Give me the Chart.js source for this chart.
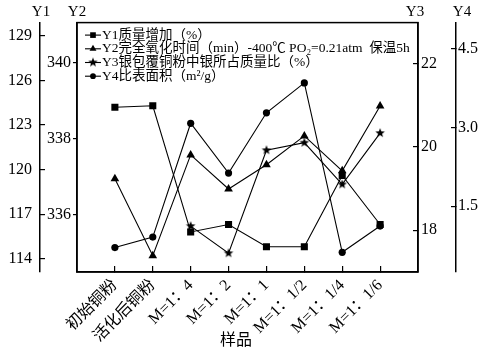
<!DOCTYPE html>
<html>
<head>
<meta charset="utf-8">
<script src="https://cdn.jsdelivr.net/npm/chart.js@4.4.0/dist/chart.umd.min.js"></script>
<style>
  html, body { margin: 0; padding: 0; background: #fff; }
</style>
</head>
<body>
<canvas id="chart" width="496" height="351"></canvas>
<script>
// Samples along the x axis
var categories = ['初始铜粉', '活化后铜粉', 'M=1：4', 'M=1：2', 'M=1：1', 'M=1：1/2', 'M=1：1/4', 'M=1：1/6'];

// Series values
var y1Gain = [124.2, 124.3, 115.8, 116.3, 114.8, 114.8, 119.6, 116.3];
var y2Time = [336.94, 334.91, 337.57, 336.67, 337.31, 338.07, 337.15, 338.86];
var y3Silver = [null, null, 18.1, 17.45, 19.92, 20.1, 19.1, 20.33];
var y4Area = [0.71, 0.91, 3.08, 2.13, 3.28, 3.85, 0.62, 1.12];

// Tick labels
var y1Ticks = [114, 117, 120, 123, 126, 129];
var y2Ticks = [336, 338, 340];
var y3Ticks = [18, 20, 22];
var y4Ticks = [1.5, 3.0, 4.5];

var legendLabels = [
  'Y1质量增加（%）',
  'Y2完全氧化时间（min）-400℃ PO₂=0.21atm  保温5h',
  'Y3银包覆铜粉中银所占质量比（%）',
  'Y4比表面积（m²/g）'
];
var axisTitles = ['Y1', 'Y2', 'Y3', 'Y4'];
var xTitle = '样品';

var family = "'Liberation Serif', 'Noto Sans CJK SC', serif";
Chart.defaults.font.family = family;
Chart.defaults.color = '#000';

// filled five point star for the Y3 series
function makeStar(r) {
  var c = document.createElement('canvas');
  var s = Math.ceil(r * 2 + 2);
  c.width = s;
  c.height = s;
  var g = c.getContext('2d');
  g.beginPath();
  for (var i = 0; i < 10; i++) {
    var rr = i % 2 ? r * 0.42 : r;
    var a = -Math.PI / 2 + i * Math.PI / 5;
    g.lineTo(s / 2 + rr * Math.cos(a), s / 2 + rr * Math.sin(a));
  }
  g.closePath();
  g.fillStyle = '#000';
  g.fill();
  return c;
}
var star = makeStar(5);

function points(arr) {
  return arr.map(function (v, i) { return {x: i + 1, y: v}; });
}

function series(label, values, axis, style, radius) {
  return {
    label: label,
    data: points(values),
    yAxisID: axis,
    borderColor: '#000',
    backgroundColor: '#000',
    borderWidth: 1.1,
    pointStyle: style,
    pointRadius: radius,
    pointBorderWidth: 0,
    tension: 0
  };
}

function setTicks(values) {
  return function (scale) {
    scale.ticks = values.map(function (v) { return {value: v}; });
  };
}

function fixWidth(w) {
  return function (scale) { scale.width = w; };
}

var gridOpts = function (len) {
  return {drawOnChartArea: false, tickLength: len, color: '#000', lineWidth: 1.2};
};
var borderOpts = {color: '#000', width: 1.5};
var tickFont = {size: 16};

// Frame, legend and the horizontal axis titles
var extras = {
  id: 'extras',
  afterDraw: function (chart) {
    var ctx = chart.ctx;
    var area = chart.chartArea;
    ctx.save();
    ctx.strokeStyle = '#000';
    ctx.lineWidth = 1.5;
    ctx.strokeRect(area.left, area.top, area.right - area.left, area.bottom - area.top);

    // legend
    var x0 = area.left + 8;
    var y0 = area.top + 12.5;
    chart.data.datasets.forEach(function (ds, i) {
      var y = y0 + i * 13.7;
      ctx.strokeStyle = '#000';
      ctx.fillStyle = '#000';
      ctx.lineWidth = 1.1;
      ctx.beginPath();
      ctx.moveTo(x0, y);
      ctx.lineTo(x0 + 16, y);
      ctx.stroke();
      if (Chart.helpers && Chart.helpers.drawPoint) {
        Chart.helpers.drawPoint(ctx, {pointStyle: ds.pointStyle, radius: ds.pointRadius * 0.8, rotation: 0, borderWidth: 0}, x0 + 8, y);
      }
      ctx.font = '13.5px ' + family;
      ctx.textBaseline = 'middle';
      ctx.textAlign = 'left';
      ctx.fillText(legendLabels[i], x0 + 17, y);
    });

    // axis names on top
    ctx.font = '15px ' + family;
    ctx.textBaseline = 'middle';
    ctx.textAlign = 'center';
    ctx.fillText(axisTitles[0], chart.scales.y1.right + 1, 12);
    ctx.fillText(axisTitles[1], area.left, 12);
    ctx.fillText(axisTitles[2], area.right - 3, 12);
    ctx.fillText(axisTitles[3], chart.scales.y4.left + 6, 12);

    ctx.font = '16px ' + family;
    ctx.fillText(xTitle, 236, 341);
    ctx.restore();
  }
};

var chart = new Chart(document.getElementById('chart'), {
  type: 'line',
  data: {
    datasets: [
      series(legendLabels[0], y1Gain, 'y1', 'rect', 5),
      series(legendLabels[1], y2Time, 'y2', 'triangle', 5),
      series(legendLabels[2], y3Silver, 'y3', star, 5),
      series(legendLabels[3], y4Area, 'y4', 'circle', 3.6)
    ]
  },
  options: {
    responsive: false,
    animation: false,
    layout: {padding: {top: 21, left: 0, right: 0, bottom: 0}},
    plugins: {legend: {display: false}, tooltip: {enabled: false}},
    scales: {
      x: {
        type: 'linear',
        min: 0,
        max: 9,
        grid: gridOpts(-6),
        border: borderOpts,
        afterBuildTicks: setTicks(categories.map(function (c, i) { return i + 1; })),
        afterFit: function (scale) { scale.height = 79; },
        ticks: {
          autoSkip: false,
          maxRotation: 45,
          minRotation: 45,
          padding: 10,
          font: {size: 16},
          callback: function (v) { return categories[v - 1]; }
        }
      },
      y2: {
        position: 'left',
        weight: 0,
        min: 334.48,
        max: 341.06,
        grid: gridOpts(4),
        border: borderOpts,
        afterBuildTicks: setTicks(y2Ticks),
        afterFit: fixWidth(37),
        ticks: {padding: 2, font: tickFont}
      },
      y1: {
        position: 'left',
        weight: 1,
        min: 113.1,
        max: 129.9,
        grid: gridOpts(-5),
        border: borderOpts,
        afterBuildTicks: setTicks(y1Ticks),
        afterFit: fixWidth(40),
        ticks: {padding: 13, font: tickFont}
      },
      y3: {
        position: 'right',
        weight: 0,
        min: 17.0,
        max: 22.98,
        grid: gridOpts(-5),
        border: borderOpts,
        afterBuildTicks: setTicks(y3Ticks),
        afterFit: fixWidth(38),
        ticks: {padding: 8, font: tickFont}
      },
      y4: {
        position: 'right',
        weight: 1,
        min: 0.244,
        max: 5.0,
        grid: gridOpts(-5),
        border: borderOpts,
        afterBuildTicks: setTicks(y4Ticks),
        afterFit: fixWidth(40),
        ticks: {
          padding: 7,
          font: tickFont,
          callback: function (v) { return v.toFixed(1); }
        }
      }
    }
  },
  plugins: [extras]
});
</script>
</body>
</html>
